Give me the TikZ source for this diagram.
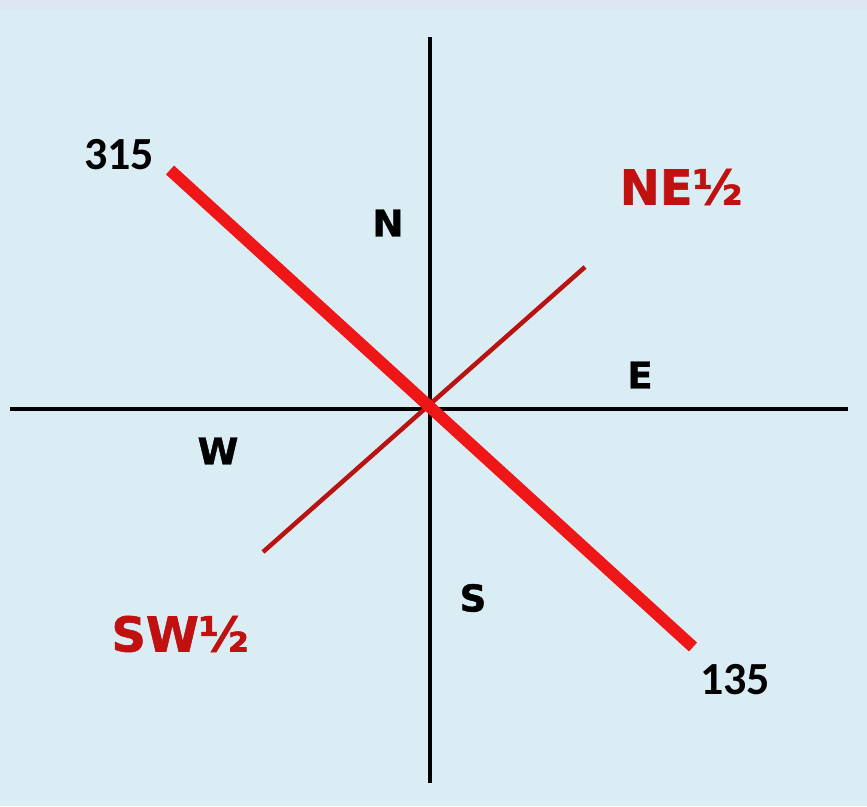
\documentclass[tikz,border=0pt]{standalone}
\usepackage{fontspec}
\setmainfont{Liberation Sans}
\newfontfamily\numfont{Carlito}
\newfontfamily\heavyfont[BoldFeatures={FakeBold=1.2}]{DejaVu Sans}
\definecolor{bgmain}{RGB}{219,237,244}
\definecolor{bgtop}{RGB}{221,230,242}
\definecolor{thickred}{RGB}{238,22,22}
\definecolor{thinred}{RGB}{185,18,18}
\definecolor{labred}{RGB}{192,16,16}
\tikzset{
  axis/.style={line width=3.5pt,black},
  mainline/.style={line width=12pt,thickred},
  halfline/.style={line width=4.5pt,thinred},
  dirlab/.style={font=\heavyfont\fontsize{37}{42}\selectfont\bfseries,inner sep=0pt},
  numlab/.style={font=\numfont\fontsize{46}{54}\selectfont\bfseries,inner sep=0pt},
  halflab/.style={font=\heavyfont\fontsize{48}{58}\selectfont\bfseries,text=labred,inner sep=0pt},
}
\begin{document}
\begin{tikzpicture}[x=1pt,y=1pt]
\fill[bgmain] (0,0) rectangle (867,806);
\fill[bgtop] (0,796) rectangle (867,806);
\useasboundingbox (0,0) rectangle (867,806);
% endpoints (y = 806 - pixel y)
\coordinate (vtop) at (430,769);
\coordinate (vbot) at (430,23);
\coordinate (hl) at (10,397);
\coordinate (hr) at (848,397);
\coordinate (nw) at (170,636);
\coordinate (se) at (693,159);
\coordinate (ne) at (585,539);
\coordinate (sw) at (263,254);
\draw[axis] (vtop) -- (vbot);
\draw[axis] (hl) -- (hr);
\draw[halfline] (sw) -- (ne);
\draw[mainline] (nw) -- (se);
\node[dirlab] (N) at (388,583) {N};
\node[dirlab] (E) at (640,431) {E};
\node[dirlab] (W) at (218,355) {W};
\node[dirlab] (S) at (473,208) {S};
\node[numlab] (n315) at (119,651) {315};
\node[numlab] (n135) at (735,126) {135};
\node[halflab] (NEh) at (681,619) {NE½};
\node[halflab] (SWh) at (180,172) {SW½};
\end{tikzpicture}
\end{document}
